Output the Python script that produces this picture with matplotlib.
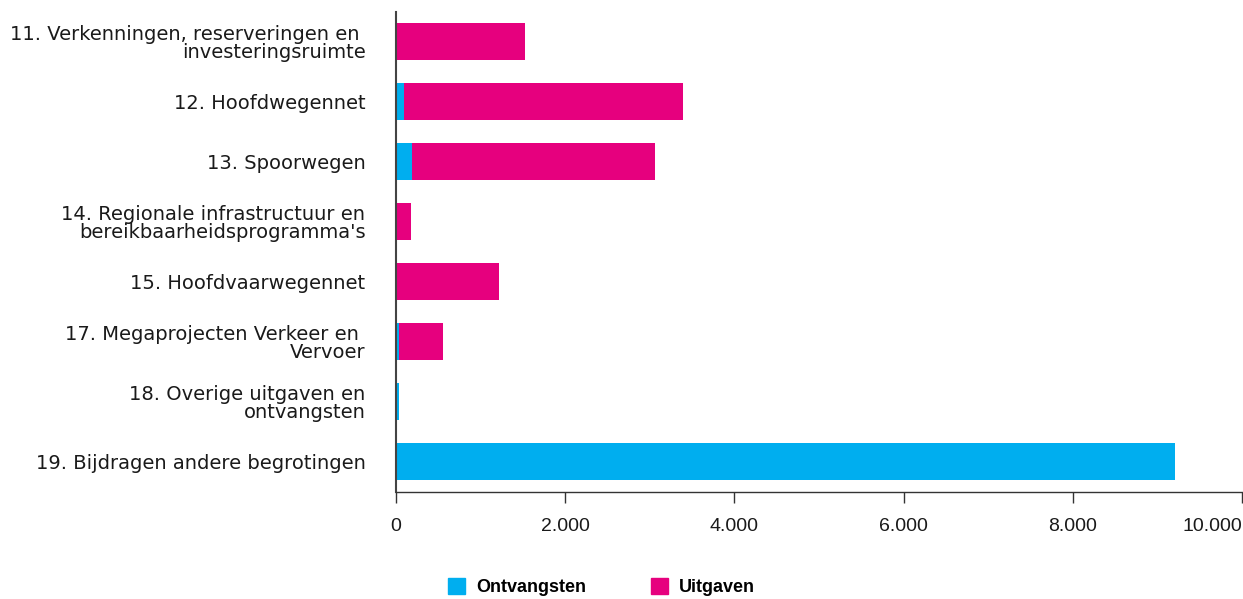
import matplotlib.pyplot as plt
from matplotlib.patches import Patch
from matplotlib.ticker import FuncFormatter

# values in EUR mln
categories = [
    "11. Verkenningen, reserveringen en \ninvesteringsruimte",
    "12. Hoofdwegennet",
    "13. Spoorwegen",
    "14. Regionale infrastructuur en\nbereikbaarheidsprogramma's",
    "15. Hoofdvaarwegennet",
    "17. Megaprojecten Verkeer en \nVervoer",
    "18. Overige uitgaven en\nontvangsten",
    "19. Bijdragen andere begrotingen",
]
ontvangsten = [0, 95, 190, 0, 0, 35, 30, 9210]
uitgaven = [1527, 3295, 2870, 177, 1218, 520, 0, 0]
xticks = [0, 2000, 4000, 6000, 8000, 10000]

CYAN = "#00AEEF"
MAGENTA = "#E6007E"

plt.rcParams["font.family"] = ["Liberation Sans", "DejaVu Sans"]

fig = plt.figure(figsize=(12.43, 5.99), dpi=100)
ax = fig.add_axes([396 / 1243, 107.5 / 599, (1242 - 396) / 1243, 480 / 599])

pos = list(range(len(categories)))
ax.barh(pos, ontvangsten, height=0.62, color=CYAN)
ax.barh(pos, uitgaven, left=ontvangsten, height=0.62, color=MAGENTA)

ax.set_ylim(len(categories) - 0.5, -0.5)
ax.set_xlim(0, 10000)
ax.set_yticks(pos)
ax.set_yticklabels(categories, fontsize=14, family="DejaVu Sans",
                   color="#1a1a1a", linespacing=0.95)
ax.tick_params(axis="y", length=0, pad=22)

ax.set_xticks(xticks)
ax.xaxis.set_major_formatter(FuncFormatter(lambda v, p: "{:,.0f}".format(v).replace(",", ".")))
ax.tick_params(axis="x", length=8, width=1, color="#333333", labelsize=14,
               labelcolor="#1a1a1a", pad=11)
ax.get_xticklabels()[-1].set_horizontalalignment("right")

for s in ["top", "right"]:
    ax.spines[s].set_visible(False)
ax.spines["left"].set_color("#444444")
ax.spines["left"].set_linewidth(1.5)
ax.spines["bottom"].set_color("#333333")
ax.spines["bottom"].set_linewidth(1)

handles = [Patch(color=CYAN, label="Ontvangsten"), Patch(color=MAGENTA, label="Uitgaven")]
fig.legend(handles=handles, loc="center", bbox_to_anchor=(0.484, 0.02), ncol=2,
           frameon=False, prop={"size": 13, "weight": "bold"},
           handlelength=0.95, handleheight=0.95, handletextpad=0.6, columnspacing=3.6)

fig.savefig("out.png", dpi=100)
